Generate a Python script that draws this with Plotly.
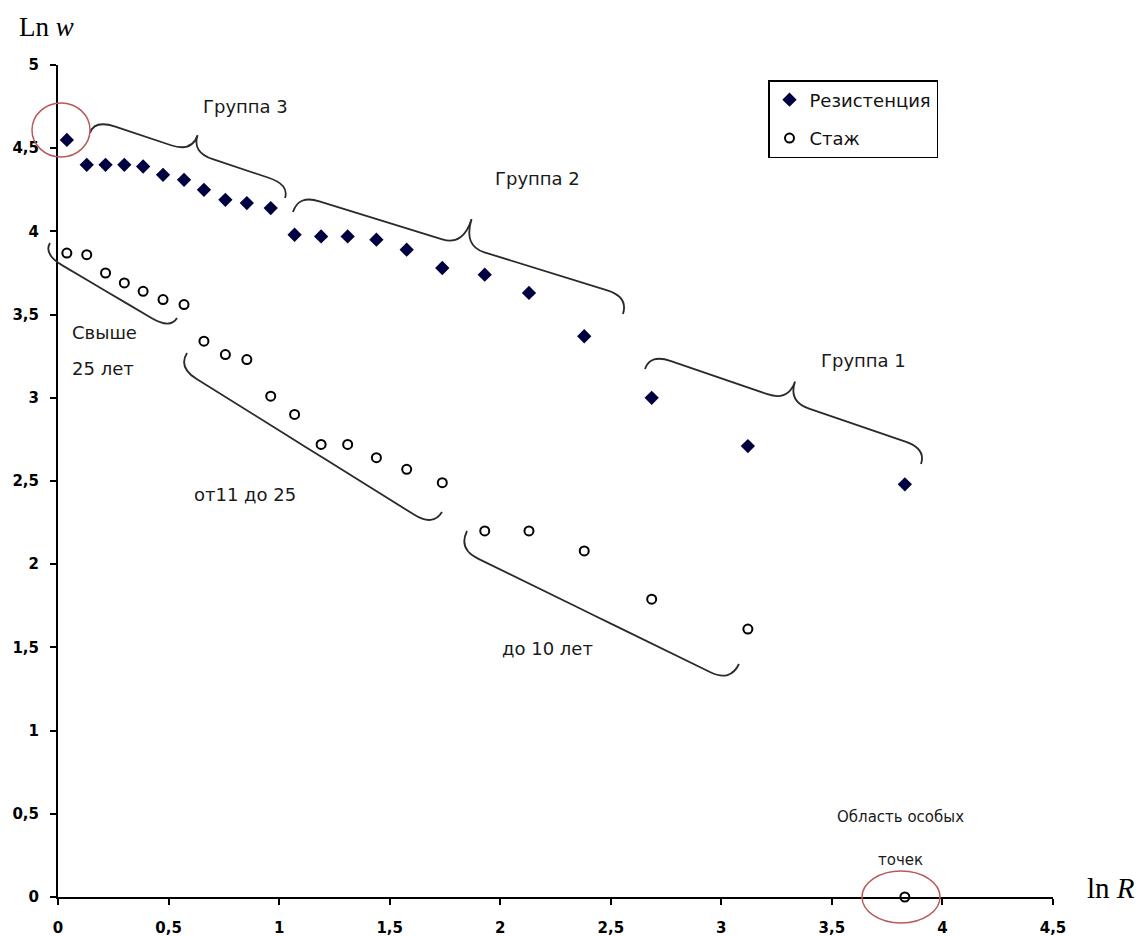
import math
import plotly.graph_objects as go

# ---------------- data ----------------
ln_R = [0.04, 0.13, 0.215, 0.30, 0.385, 0.475, 0.57, 0.66, 0.757, 0.854, 0.962,
        1.07, 1.19, 1.31, 1.44, 1.577, 1.738, 1.93, 2.13, 2.38, 2.685, 3.12, 3.83]
resist = [4.55, 4.40, 4.40, 4.40, 4.39, 4.34, 4.31, 4.25, 4.19, 4.17, 4.14,
          3.98, 3.97, 3.97, 3.95, 3.89, 3.78, 3.74, 3.63, 3.37, 3.00, 2.71, 2.48]
stazh = [3.87, 3.86, 3.75, 3.69, 3.64, 3.59, 3.56, 3.34, 3.26, 3.23, 3.01,
         2.90, 2.72, 2.72, 2.64, 2.57, 2.49, 2.20, 2.20, 2.08, 1.79, 1.61, 0.0]
series_names = ["Резистенция", "Стаж"]

# ---------------- layout geometry ----------------
W, H = 1146, 937
L_PX, R_PX, T_PX, B_PX = 58, 1053, 65, 897   # plot area in pixels


def P(px, py):
    """pixel -> paper coordinates"""
    return (px - L_PX) / (R_PX - L_PX), (B_PX - py) / (B_PX - T_PX)


def brace_path(p0, p1, q, tip, outward_down, r=22, tippos=0.5):
    x0, y0 = p0
    x1, y1 = p1
    dx, dy = x1 - x0, y1 - y0
    Ln = math.hypot(dx, dy)
    ux, uy = dx / Ln, dy / Ln
    nx, ny = -uy, ux
    if (ny > 0) != outward_down:
        nx, ny = -nx, -ny
    mx, my = x0 + dx * tippos, y0 + dy * tippos

    def pt(bx, by, a, b):
        return bx + ux * a + nx * b, by + uy * a + ny * b

    pts = [
        ("M", [(x0, y0)]),
        ("Q", [pt(x0, y0, 0, q), pt(x0, y0, r, q)]),
        ("L", [pt(mx, my, -r, q)]),
        ("Q", [pt(mx, my, 0, q), pt(mx, my, 0, tip)]),
        ("Q", [pt(mx, my, 0, q), pt(mx, my, r, q)]),
        ("L", [pt(x1, y1, -r, q)]),
        ("Q", [pt(x1, y1, 0, q), (x1, y1)]),
    ]
    s = ""
    for cmd, ps in pts:
        s += cmd + " " + " ".join("%.5f,%.5f" % P(a, b) for a, b in ps) + " "
    return s.strip()


fig = go.Figure()
fig.add_trace(go.Scatter(
    x=ln_R, y=resist, mode="markers", name=series_names[0], legendgroup="a",
    marker=dict(symbol="diamond", size=11, color="#000040"), cliponaxis=False))
fig.add_trace(go.Scatter(
    x=ln_R, y=stazh, mode="markers", name=series_names[1], legendgroup="b",
    marker=dict(symbol="circle-open", size=9, color="#000000", line=dict(width=2)),
    cliponaxis=False))

shapes = []
brace_color = "#2a2a2a"
braces = [
    ((90, 133), (285, 198), 14, 32, False),
    ((293, 212), (623, 314), 18, 46, False),
    ((645, 369), (921, 464), 16, 37, False),
    ((50, 243), (177, 318), 13, 13, True),
    ((187, 353), (442, 512), 17, 17, True),
    ((467, 531), (739, 664), 20, 20, True),
]
for p0, p1, q, tip, down in braces:
    shapes.append(dict(type="path", xref="paper", yref="paper",
                       path=brace_path(p0, p1, q, tip, down),
                       line=dict(color=brace_color, width=1.8)))

ell_color = "#b85a5a"
for (cx, cy, rx, ry) in [(61, 130, 29, 27), (901, 897, 39, 26)]:
    ax0, ay0 = P(cx - rx, cy + ry)
    ax1, ay1 = P(cx + rx, cy - ry)
    shapes.append(dict(type="circle", xref="paper", yref="paper",
                       x0=ax0, y0=ay0, x1=ax1, y1=ay1,
                       line=dict(color=ell_color, width=1.5)))

annotations = []


def txt(text, px, py, size=18, family="DejaVu Sans", xanchor="center", color="#1a1a1a"):
    x, y = P(px, py)
    annotations.append(dict(text=text, x=x, y=y, xref="paper", yref="paper",
                            xanchor=xanchor, yanchor="middle", showarrow=False,
                            font=dict(family=family, size=size, color=color)))


txt("Группа 3", 245, 106)
txt("Группа 2", 537, 179)
txt("Группа 1", 863, 361)
txt("Свыше", 70, 332, xanchor="left")
txt("25 лет", 70, 368, xanchor="left")
txt("от11 до 25", 245, 494)
txt("до 10 лет", 547, 648)
txt("Область особых", 900, 817, size=15)
txt("точек", 900, 860, size=15)
txt("Ln <i>w</i>", 46, 27, size=27, family="Liberation Serif", color="#000")
txt("ln <i>R</i>", 1111, 888, size=29, family="Liberation Serif", color="#000")

axis_common = dict(showline=True, linecolor="black", linewidth=2, ticks="outside",
                   ticklen=6, tickwidth=1.5, tickcolor="black", showgrid=False,
                   zeroline=False, dtick=0.5, tick0=0, automargin=False,
                   tickfont=dict(family="DejaVu Sans", size=15, color="#000",
                                 weight="bold"))

lx, ly = P(768, 80)
fig.update_layout(
    width=W, height=H,
    margin=dict(l=L_PX, r=W - R_PX, t=T_PX, b=H - B_PX, autoexpand=False),
    paper_bgcolor="white", plot_bgcolor="white",
    separators=", ",
    xaxis=dict(range=[0, 4.5], ticklabelstandoff=10, **axis_common),
    yaxis=dict(range=[0, 5], ticklabelstandoff=8, **axis_common),
    legend=dict(x=lx, y=ly, xanchor="left", yanchor="top",
                bordercolor="black", borderwidth=1.5, bgcolor="white",
                font=dict(family="DejaVu Sans", size=18, color="#111"),
                tracegroupgap=12, itemwidth=30, entrywidth=195),
    shapes=shapes, annotations=annotations,
    showlegend=True,
)

fig.write_html("out.html")
